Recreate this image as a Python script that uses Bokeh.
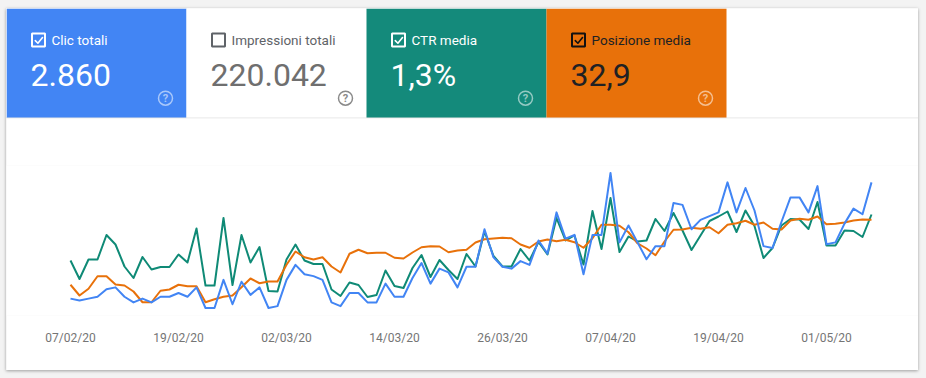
import pandas as pd
from bokeh.plotting import figure
from bokeh.layouts import column
from bokeh.models import Range1d, FixedTicker, DatetimeTickFormatter, ColumnDataSource
from bokeh.core.properties import value
from bokeh.embed import file_html
from bokeh.resources import INLINE

# ---------------- data ----------------
start_date = "2020-02-07"
n_days = 90

clicks = [9, 8, 9, 10, 14, 15, 10, 7, 9, 7,
          10, 10, 12, 10, 15, 4, 4, 19, 6, 18,
          11, 15, 4, 5, 19, 27, 22, 21, 19, 7,
          5, 12, 12, 7, 7, 17, 10, 10, 20, 28,
          17, 25, 23, 15, 26, 26, 46, 31, 26, 25,
          29, 27, 40, 33, 55, 41, 43, 22, 43, 43,
          76, 39, 48, 39, 30, 37, 37, 60, 59, 46,
          51, 53, 55, 71, 55, 68, 56, 37, 36, 50,
          63, 63, 55, 69, 38, 39, 49, 57, 54, 71]

ctr = [1.10, 0.73, 1.12, 1.12, 1.61, 1.42, 0.98, 0.75, 1.17, 0.92,
       0.97, 0.97, 1.22, 1.06, 1.74, 0.60, 0.60, 1.95, 0.61, 1.61,
       1.06, 1.37, 0.49, 0.48, 1.12, 1.42, 1.10, 1.03, 1.03, 0.52,
       0.39, 0.66, 0.61, 0.37, 0.41, 0.90, 0.59, 0.55, 0.95, 1.21,
       0.77, 1.11, 0.91, 0.73, 1.23, 0.98, 1.68, 1.19, 0.98, 0.98,
       1.33, 1.10, 1.47, 1.22, 1.95, 1.50, 1.60, 1.02, 2.09, 1.33,
       2.35, 1.27, 1.58, 1.48, 1.50, 1.93, 1.69, 2.05, 1.70, 1.31,
       1.60, 1.89, 1.98, 2.08, 1.67, 2.10, 1.79, 1.15, 1.35, 1.80,
       1.93, 1.92, 1.73, 2.27, 1.40, 1.40, 1.70, 1.69, 1.57, 2.02]

position = [47.7, 52.0, 49.3, 44.3, 44.3, 47.6, 48.0, 50.4, 54.7, 54.7,
            50.1, 49.6, 47.7, 48.3, 48.3, 54.7, 53.5, 52.5, 52.0, 48.7,
            45.2, 47.1, 46.4, 46.4, 39.7, 34.4, 36.7, 37.6, 36.7, 40.4,
            42.8, 35.3, 33.7, 35.1, 34.9, 34.9, 36.9, 37.2, 34.8, 32.7,
            32.3, 32.4, 34.7, 34.0, 33.7, 30.8, 29.5, 29.2, 28.9, 29.1,
            31.6, 32.9, 30.4, 29.6, 30.3, 29.7, 30.7, 32.9, 29.1, 23.7,
            23.7, 24.1, 26.7, 31.1, 33.2, 35.9, 30.4, 25.7, 25.6, 24.9,
            25.3, 24.7, 27.1, 23.7, 23.1, 22.1, 23.7, 22.8, 25.3, 25.6,
            22.0, 21.3, 21.7, 20.4, 23.5, 23.3, 22.8, 22.0, 21.6, 21.7]

tick_labels = ["07/02/20", "19/02/20", "02/03/20", "14/03/20",
               "26/03/20", "07/04/20", "19/04/20", "01/05/20"]

metric_titles = ["Clic totali", "Impressioni totali", "CTR media", "Posizione media"]
metric_values = ["2.860", "220.042", "1,3%", "32,9"]
metric_checked = [True, False, True, True]

# ---------------- styles ----------------
FONT = "Roboto"
PAGE_BG = "#f3f3f3"
W = 912
TILE_W = 180
TILE_H = 110
tile_fill = ["#4285f4", "#ffffff", "#148a7b", "#e8710a"]
tile_text = ["#ffffff", "#5f6368", "#ffffff", "#202124"]
value_text = ["#ffffff", "#6f6f6f", "#ffffff", "#202124"]
box_color = ["#ffffff", "#5f6368", "#ffffff", "#111111"]
help_color = ["#ffffff", "#8a8a8a", "#ffffff", "#ffffff"]
help_alpha = [0.55, 1.0, 0.55, 0.55]
line_blue = "#4285f4"
line_green = "#0f8a76"
line_orange = "#e8710a"

# ---------------- tiles ----------------
tiles = figure(width=W, height=TILE_H, x_range=Range1d(0, W), y_range=Range1d(TILE_H, 0),
               x_axis_type=None, y_axis_type=None, output_backend="svg",
               toolbar_location=None, min_border=0)
tiles.grid.visible = False
tiles.outline_line_color = None
tiles.background_fill_color = "white"
tiles.border_fill_color = "white"

n = len(metric_titles)
base = [TILE_W * i for i in range(n)]
tiles.quad(left=base, right=[b + TILE_W for b in base], top=[0] * n, bottom=[TILE_H] * n,
           fill_color=tile_fill, line_color=None)
# separator under tiles
tiles.line(x=[0, W], y=[TILE_H - 0.5, TILE_H - 0.5], line_color="#e3e3e3", line_width=1)

bx = [b + 32 for b in base]
tiles.rect(x=bx, y=[31.5] * n, width=13, height=13, fill_color=None,
           line_color=box_color, line_width=2)
for i in range(n):
    if metric_checked[i]:
        c = bx[i]
        tiles.line(x=[c - 3.2, c - 0.6, c + 4.0], y=[32.1, 34.7, 29.1],
                   line_color=box_color[i], line_width=1.6, line_join="round", line_cap="round")

tiles.text(x=[b + 45 for b in base], y=[31.5] * n, text=metric_titles,
           text_font=value(FONT), text_font_size="13.5px", text_color=tile_text,
           text_baseline="middle", text_align="left")
tiles.text(x=[b + 24 for b in base], y=[66.3] * n, text=metric_values,
           text_font=value(FONT), text_font_size="32px", text_color=value_text,
           text_baseline="middle", text_align="left")

hx = [b + 159 for b in base]
tiles.circle(x=hx, y=[89.7] * n, radius=7, fill_color=None,
             line_color=help_color, line_alpha=help_alpha, line_width=1.5)
tiles.text(x=hx, y=[89.7] * n, text=["?"] * n, text_font=value(FONT),
           text_font_size="11px", text_font_style="bold", text_color=help_color,
           text_alpha=help_alpha, text_align="center", text_baseline="middle")

# ---------------- chart ----------------
dates = pd.date_range(start_date, periods=n_days, freq="D")
src = ColumnDataSource(dict(date=dates, clicks=clicks, ctr=ctr, position=position))

# 9 px per day; pad the range so the frame spans the full card width
day = pd.Timedelta(days=1)
x_start = dates[0] - day * (64 / 9)
x_end = dates[-1] + day * (47 / 9)

chart = figure(width=W, height=252, x_axis_type="datetime",
               x_range=Range1d(x_start.to_pydatetime(), x_end.to_pydatetime()),
               y_range=Range1d(0, 80), y_axis_type=None,
               output_backend="svg", toolbar_location=None,
               min_border_left=0, min_border_right=0, min_border_top=47, min_border_bottom=55)
chart.extra_y_ranges = {"ctr": Range1d(0, 3), "pos": Range1d(60, 0)}
chart.grid.visible = False
chart.outline_line_color = None
chart.background_fill_color = "white"
chart.border_fill_color = "white"

tick_dates = pd.to_datetime(tick_labels, format="%d/%m/%y")
chart.xaxis.ticker = FixedTicker(ticks=[int(t.value // 10**6) for t in tick_dates])
fmt = "%d/%m/%y"
chart.xaxis.formatter = DatetimeTickFormatter(days=fmt, months=fmt, years=fmt, hours=fmt,
                                              hourmin=fmt, minutes=fmt, minsec=fmt,
                                              seconds=fmt, milliseconds=fmt,
                                              microseconds=fmt)
chart.xaxis.axis_line_color = None
chart.xaxis.major_tick_line_color = None
chart.xaxis.minor_tick_line_color = None
chart.xaxis.major_label_standoff = 9
chart.xaxis.major_label_text_font = FONT
chart.xaxis.major_label_text_font_size = "12px"
chart.xaxis.major_label_text_color = "#757575"

chart.line(x="date", y="ctr", source=src, y_range_name="ctr",
           line_color=line_green, line_width=2, line_join="round")
chart.line(x="date", y="position", source=src, y_range_name="pos",
           line_color=line_orange, line_width=2, line_join="round")
chart.line(x="date", y="clicks", source=src,
           line_color=line_blue, line_width=2, line_join="round")

card = column(tiles, chart, spacing=0, margin=(8, 8, 8, 6),
              styles={"box-shadow": "0 1px 3px rgba(0,0,0,0.35)"})
page = column(card, spacing=0, margin=0, styles={"background-color": PAGE_BG})

html = file_html(page, INLINE)
open("out.html", "w").write(html)
